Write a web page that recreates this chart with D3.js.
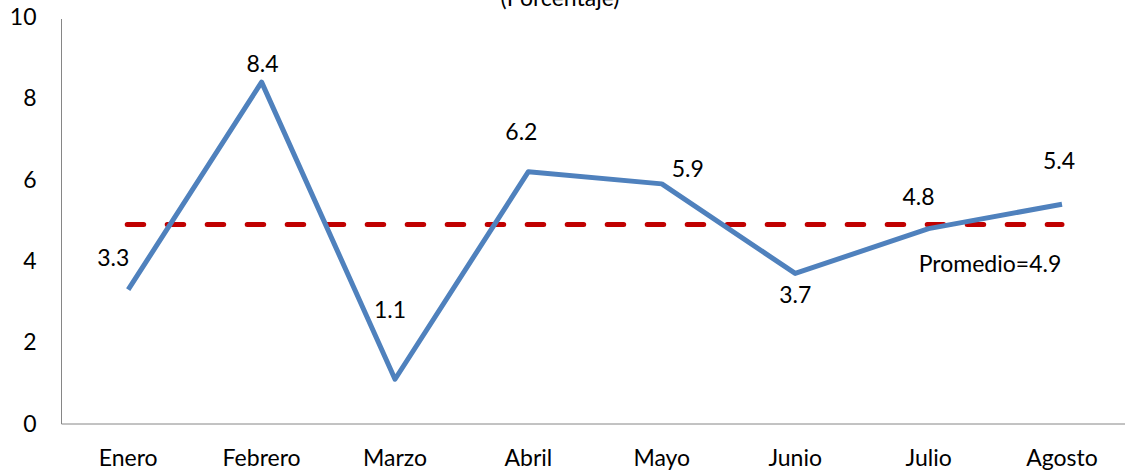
<!DOCTYPE html>
<html>
<head>
<meta charset="utf-8">
<script src="https://cdn.jsdelivr.net/npm/d3@7"></script>
<style>
  body { margin: 0; background: #fff; }
  svg text { font-family: Lato, "Open Sans", sans-serif; fill: #000; }
</style>
</head>
<body>
<svg id="chart" width="1125" height="475"></svg>
<script>
// datos
var meses = ['Enero', 'Febrero', 'Marzo', 'Abril', 'Mayo', 'Junio', 'Julio', 'Agosto'];
var valores = [3.3, 8.4, 1.1, 6.2, 5.9, 3.7, 4.8, 5.4];
var promedio = 4.9;
var yTicks = [0, 2, 4, 6, 8, 10];

// desplazamiento de etiquetas (dx, dy) respecto al punto
var labelOffsets = [[-15, -24], [1, -10], [-5, -61], [-7, -32], [26, -7], [0, 30], [-10, -24], [-3, -35]];

var svg = d3.select('#chart');
var plotLeft = 61.5, plotBottom = 424, plotTop = 17;

var x = d3.scaleBand().domain(meses).range([plotLeft, plotLeft + 8 * 133.4]);
var y = d3.scaleLinear().domain([0, 10]).range([plotBottom, plotTop]);
var cx = function(m){ return x(m) + x.bandwidth() / 2; };

// eje y
var ay = svg.append('g')
    .attr('transform', `translate(${plotLeft},0)`)
    .call(d3.axisLeft(y).tickValues(yTicks).tickSize(0).tickPadding(25));
ay.select('.domain').attr('stroke', '#868686').attr('d', `M0,${y(10) + 2}V${plotBottom}`);
ay.selectAll('text').attr('font-size', 23).attr('font-family', 'Lato').attr('fill', '#000');

// eje x
var ax = svg.append('g')
    .attr('transform', `translate(0,${plotBottom})`)
    .call(d3.axisBottom(x).tickSize(0).tickPadding(26));
ax.select('.domain').attr('stroke', '#868686').attr('d', `M${plotLeft},0H1125`);
ax.selectAll('text').attr('font-size', 23).attr('font-family', 'Lato').attr('fill', '#000');

// promedio
svg.append('line')
    .attr('x1', cx(meses[0]) - 1).attr('x2', cx(meses[meses.length - 1]))
    .attr('y1', y(promedio)).attr('y2', y(promedio))
    .attr('stroke', '#C00000').attr('stroke-width', 5)
    .attr('stroke-linecap', 'round').attr('stroke-dasharray', '16.5 23.5');

// serie
var line = d3.line().x(function(d, i){ return cx(meses[i]); }).y(function(d){ return y(d); });
svg.append('path')
    .datum(valores)
    .attr('d', line)
    .attr('fill', 'none')
    .attr('stroke', '#4F81BD').attr('stroke-width', 5)
    .attr('stroke-linejoin', 'round');

// etiquetas
svg.selectAll('.lbl')
    .data(valores)
    .enter().append('text')
    .attr('class', 'lbl')
    .attr('x', function(d, i){ return cx(meses[i]) + labelOffsets[i][0]; })
    .attr('y', function(d, i){ return y(d) + labelOffsets[i][1]; })
    .attr('text-anchor', 'middle')
    .attr('font-size', 23)
    .text(function(d){ return d.toFixed(1); });

svg.append('text')
    .attr('x', 990).attr('y', 272)
    .attr('text-anchor', 'middle').attr('font-size', 23)
    .text('Promedio=' + promedio.toFixed(1));

svg.append('text')
    .attr('x', 560).attr('y', 6)
    .attr('text-anchor', 'middle').attr('font-size', 23)
    .text('(Porcentaje)');
</script>
</body>
</html>
